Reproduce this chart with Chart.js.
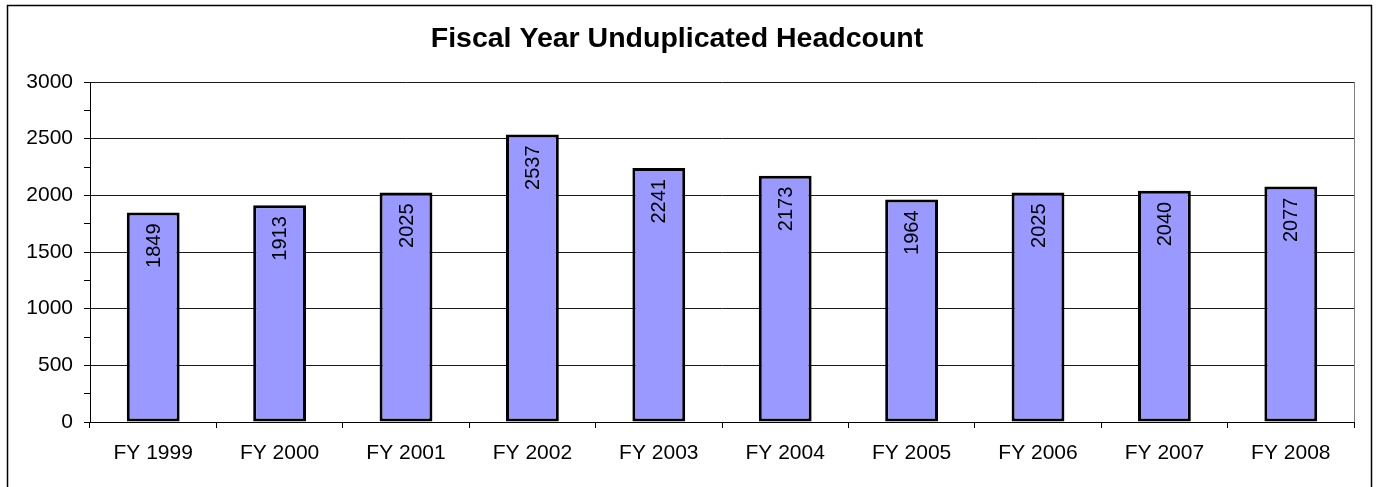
<!DOCTYPE html>
<html>
<head>
<meta charset="utf-8">
<script src="https://cdn.jsdelivr.net/npm/chart.js@4/dist/chart.umd.min.js"></script>
<style>
  html, body { margin: 0; padding: 0; background: #fff; }
  #wrap { position: absolute; left: 0; top: 0; width: 1377px; height: 487px; }
</style>
</head>
<body>
<div id="wrap"><canvas id="c" width="1377" height="487"></canvas></div>
<script>
const categories = ['FY 1999','FY 2000','FY 2001','FY 2002','FY 2003','FY 2004','FY 2005','FY 2006','FY 2007','FY 2008'];
const headcount = [1849, 1913, 2025, 2537, 2241, 2173, 1964, 2025, 2040, 2077];
const yMajorTicks = [0, 500, 1000, 1500, 2000, 2500, 3000];
const chartTitle = 'Fiscal Year Unduplicated Headcount';

const FONT = '"Liberation Sans", Arial, sans-serif';

const frame = {
  id: 'frame',
  beforeDraw(chart) {
    const ctx = chart.ctx;
    ctx.save();
    ctx.fillStyle = '#fff';
    ctx.fillRect(0, 0, chart.width, chart.height);
    ctx.strokeStyle = '#000';
    ctx.lineWidth = 1.5;
    ctx.strokeRect(7.5, 5.5, 1364, 600);
    const a = chart.chartArea;
    ctx.strokeStyle = '#808080';
    ctx.lineWidth = 1;
    ctx.beginPath();
    ctx.moveTo(Math.round(a.right) + 0.5, a.top);
    ctx.lineTo(Math.round(a.right) + 0.5, a.bottom);
    ctx.stroke();
    ctx.restore();
  }
};

const barLabels = {
  id: 'barLabels',
  afterDatasetsDraw(chart) {
    const ctx = chart.ctx;
    const meta = chart.getDatasetMeta(0);
    const data = chart.data.datasets[0].data;
    ctx.save();
    ctx.fillStyle = '#000';
    ctx.font = '20px ' + FONT;
    ctx.textAlign = 'right';
    ctx.textBaseline = 'middle';
    meta.data.forEach((el, i) => {
      ctx.save();
      ctx.translate(el.x + 1, el.y + 11);
      ctx.rotate(-Math.PI / 2);
      ctx.fillText(String(data[i]), 0, 0);
      ctx.restore();
    });
    ctx.restore();
  }
};

new Chart(document.getElementById('c'), {
  type: 'bar',
  data: {
    labels: categories,
    datasets: [{
      data: headcount,
      backgroundColor: '#9999FF',
      borderColor: '#000',
      borderWidth: 3,
      borderSkipped: false,
      categoryPercentage: 1,
      barPercentage: 0.418
    }]
  },
  plugins: [frame, barLabels],
  options: {
    responsive: false,
    animation: false,
    devicePixelRatio: 1,
    layout: { padding: { left: 0, right: 23, top: 0, bottom: 0 } },
    plugins: {
      legend: { display: false },
      tooltip: { enabled: false },
      title: {
        display: true,
        text: chartTitle,
        color: '#000',
        font: { family: FONT, size: 28.5, weight: 'bold' },
        padding: { top: 22, bottom: 25.8 }
      }
    },
    scales: {
      x: {
        afterFit(s) { s.height = 65; },
        grid: {
          display: true,
          drawOnChartArea: false,
          drawTicks: true,
          tickLength: 6,
          tickColor: '#000',
          offset: true
        },
        border: { display: true, color: '#000', width: 1 },
        ticks: {
          color: '#000',
          font: { family: FONT, size: 21 },
          padding: 13,
          autoSkip: false,
          maxRotation: 0
        }
      },
      y: {
        min: 0,
        max: 3000,
        afterFit(s) { s.width = 90; },
        grid: {
          color: (c) => (c.tick && yMajorTicks.includes(c.tick.value)) ? '#1a1a1a' : 'rgba(0,0,0,0)',
          tickColor: '#000',
          tickLength: 6,
          lineWidth: 1
        },
        border: { display: true, color: '#000', width: 1 },
        ticks: {
          stepSize: 250,
          autoSkip: false,
          color: '#000',
          font: { family: FONT, size: 21 },
          padding: 11,
          callback: (v) => yMajorTicks.includes(v) ? String(v) : ''
        }
      }
    }
  }
});
</script>
</body>
</html>
